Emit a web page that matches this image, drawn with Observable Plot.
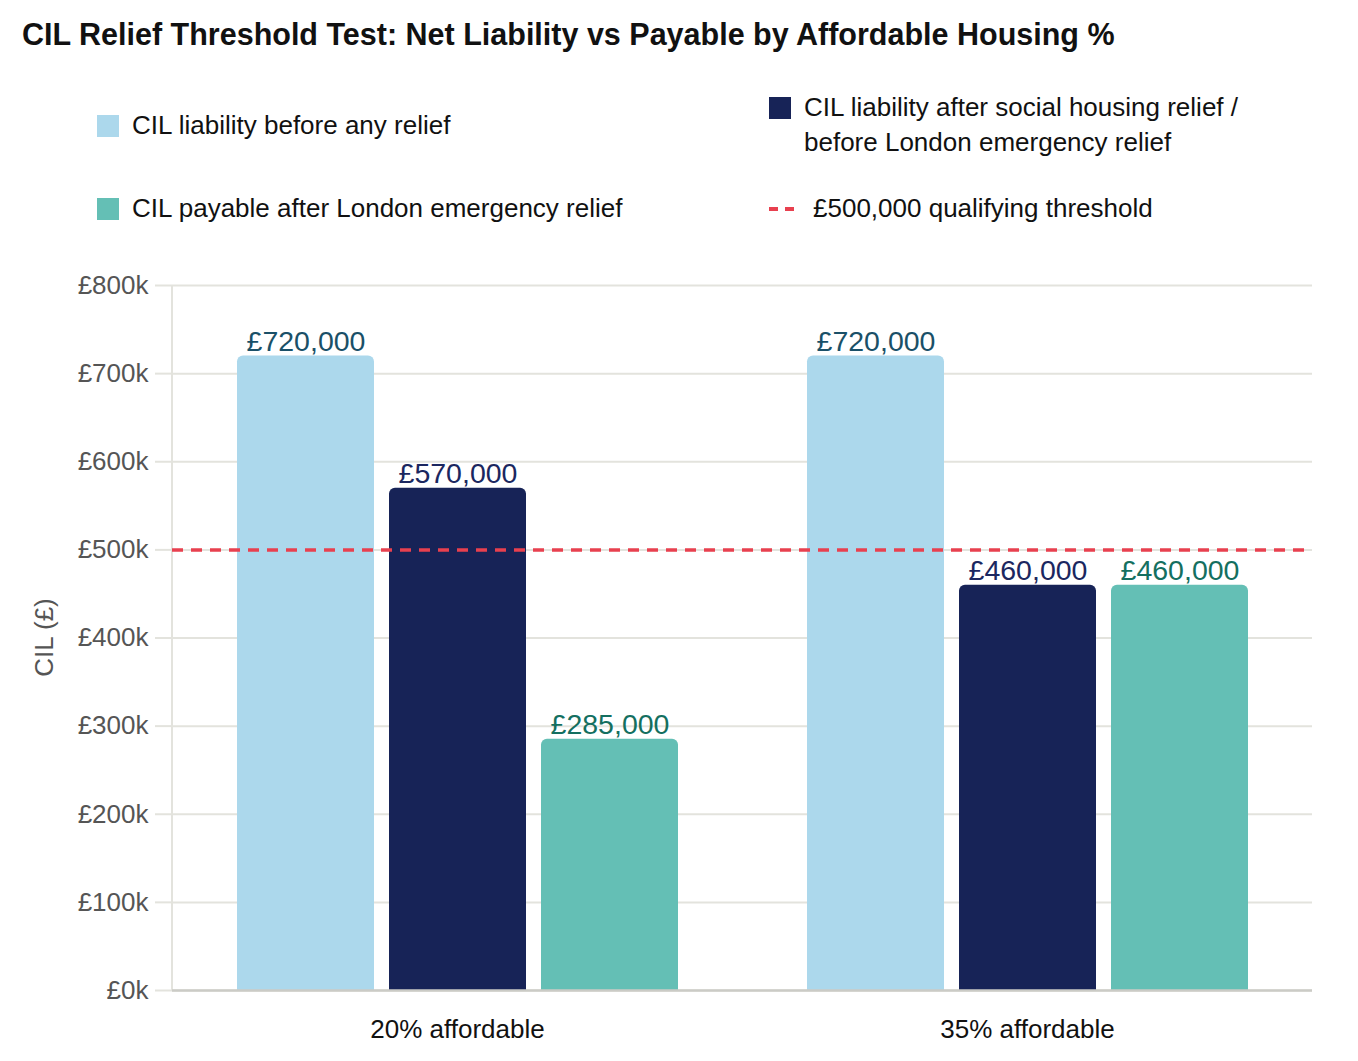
<!DOCTYPE html>
<html>
<head>
<meta charset="utf-8">
<script src="https://cdn.jsdelivr.net/npm/d3@7"></script>
<script src="https://cdn.jsdelivr.net/npm/@observablehq/plot@0.6"></script>
<style>
  html, body { margin: 0; padding: 0; background: #fff; }
  body { width: 1358px; height: 1061px; position: relative; overflow: hidden;
         font-family: "Liberation Sans", Arial, Helvetica, sans-serif; color: #111; }
  #title { position: absolute; left: 22px; top: 17px; font-size: 30.5px; font-weight: bold; white-space: nowrap; }
  .lg { position: absolute; font-size: 26px; line-height: 35px; color: #111; }
  .sw { position: absolute; width: 22px; height: 22px; }
  #chart { position: absolute; left: 0; top: 250px; }
</style>
</head>
<body>
<div id="title">CIL Relief Threshold Test: Net Liability vs Payable by Affordable Housing %</div>
<div id="legend"></div>
<div id="chart"></div>
<script>
// ---- data ----
const groups = ["20% affordable", "35% affordable"];
const series = [
  "CIL liability before any relief",
  "CIL liability after social housing relief / before London emergency relief",
  "CIL payable after London emergency relief"
];
const beforeRelief = [720000, 720000];
const afterSocialRelief = [570000, 460000];
const payableAfterEmergency = [285000, 460000];
const threshold = 500000;
const thresholdLabel = "£500,000 qualifying threshold";
const yLabel = "CIL (£)";
const yTicks = [0, 100000, 200000, 300000, 400000, 500000, 600000, 700000, 800000];

// ---- styles ----
const barColors = ["#acd8ec", "#172357", "#64bfb5"];
const labelColors = ["#1a5068", "#1b2760", "#146f60"];
const thresholdColor = "#e8404f";

const seriesValues = [beforeRelief, afterSocialRelief, payableAfterEmergency];
const rows = [];
groups.forEach((g, gi) => series.forEach((s, si) => rows.push({group: g, series: s, value: seriesValues[si][gi]})));

// ---- legend (HTML) ----
const legend = document.getElementById("legend");
const legendItems = [
  {left: 97, top: 108, text: series[0], type: "sq", color: barColors[0]},
  {left: 769, top: 90, text: "CIL liability after social housing relief /<br>before London emergency relief", type: "sq", color: barColors[1]},
  {left: 97, top: 191, text: series[2], type: "sq", color: barColors[2]},
  {left: 769, top: 191, text: thresholdLabel, type: "dash", color: thresholdColor}
];
legendItems.forEach(it => {
  const d = document.createElement("div");
  d.className = "lg";
  d.style.left = (it.left + (it.type === "dash" ? 44 : 35)) + "px";
  d.style.top = it.top + "px";
  d.innerHTML = it.text;
  legend.appendChild(d);
  if (it.type === "sq") {
    const s = document.createElement("div");
    s.className = "sw";
    s.style.left = it.left + "px";
    s.style.top = (it.top + 7) + "px";
    s.style.background = it.color;
    legend.appendChild(s);
  } else {
    const s = document.createElementNS("http://www.w3.org/2000/svg", "svg");
    s.setAttribute("width", 30); s.setAttribute("height", 10);
    s.style.position = "absolute"; s.style.left = it.left + "px"; s.style.top = (it.top + 13) + "px";
    s.innerHTML = `<line x1="0" y1="5" x2="26" y2="5" stroke="${it.color}" stroke-width="4" stroke-dasharray="9,7"/>`;
    legend.appendChild(s);
  }
});

// ---- chart ----
const marginLeft = 172, marginRight = 46, marginTop = 35, marginBottom = 71;
const fmtK = d => "£" + (d / 1000) + "k";
const fmtFull = d => "£" + d3.format(",")(d);

const plot = Plot.plot({
  width: 1358,
  height: 811,
  marginLeft, marginRight, marginTop, marginBottom,
  style: {fontFamily: "'Liberation Sans', Arial, Helvetica, sans-serif", background: "#fff"},
  fx: {domain: groups, padding: 0, label: null},
  x: {domain: series, paddingInner: 0.1, paddingOuter: 0.415, axis: null},
  y: {domain: [0, 800000], label: null},
  color: {domain: series, range: barColors},
  marks: [
    Plot.ruleY(yTicks, {stroke: "#e3e3dd", strokeWidth: 2}),
    Plot.axisY({ticks: yTicks, tickFormat: fmtK, tickSize: 17, tickPadding: 7, stroke: "#e3e3dd", strokeWidth: 2,
                fill: "#555", fontSize: 26, label: null}),
    Plot.axisFx({anchor: "bottom", tickSize: 0, tickPadding: 29, fontSize: 26, fill: "#111", label: null}),
    Plot.barY(rows, {fx: "group", x: "series", y: "value", fill: d => d.series, ry1: 6, rx: 0}),
    Plot.ruleY([0], {stroke: "#cbcbc6", strokeWidth: 2.5}),
    Plot.ruleY([threshold], {stroke: thresholdColor, strokeWidth: 3.5, strokeDasharray: "11,8"}),
    Plot.text(rows, {fx: "group", x: "series", y: "value", text: d => fmtFull(d.value),
      fill: d => labelColors[series.indexOf(d.series)], fontSize: 28.5, lineAnchor: "bottom", dy: -5})
  ]
});
document.getElementById("chart").appendChild(plot);

// left axis line and y-axis title, placed with the plot's own y scale
const ys = plot.scale("y");
const svg = d3.select(plot);
svg.insert("line", ":first-child")
  .attr("x1", marginLeft).attr("x2", marginLeft)
  .attr("y1", ys.apply(800000)).attr("y2", ys.apply(0))
  .attr("stroke", "#e3e3dd").attr("stroke-width", 2);
const midY = (ys.apply(800000) + ys.apply(0)) / 2;
svg.append("text")
  .attr("transform", `translate(44,${midY}) rotate(-90)`)
  .attr("text-anchor", "middle").attr("dominant-baseline", "central")
  .attr("fill", "#555").attr("font-size", 26)
  .text(yLabel);
</script>
</body>
</html>
